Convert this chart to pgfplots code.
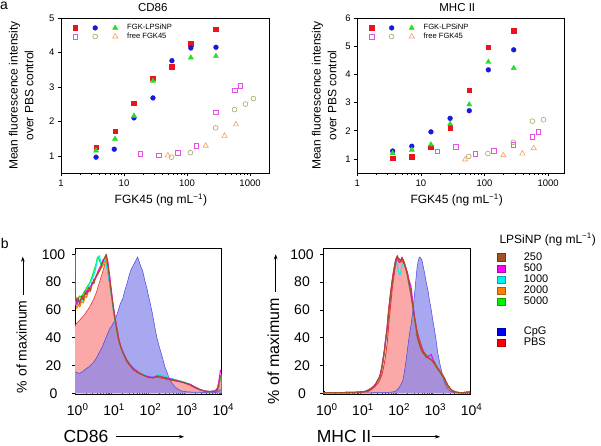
\documentclass[border=0pt]{standalone}
\usepackage{pgfplots}
\usepackage{pgfplotstable}
\pgfplotsset{compat=1.18}
\usepackage{fontspec}
\setmainfont{Liberation Sans}
\usetikzlibrary{arrows.meta}

\definecolor{mred}{RGB}{235,20,30}
\definecolor{mblue}{RGB}{25,25,220}
\definecolor{mgreen}{RGB}{40,220,40}
\definecolor{mmag}{RGB}{230,80,230}
\definecolor{molive}{RGB}{170,165,100}
\definecolor{morange}{RGB}{250,160,90}
\definecolor{hbrown}{RGB}{160,82,35}
\definecolor{hmag}{RGB}{255,0,255}
\definecolor{hcyan}{RGB}{0,240,240}
\definecolor{horange}{RGB}{255,128,0}
\definecolor{hgreen}{RGB}{0,240,0}
\definecolor{hblue}{RGB}{0,0,255}
\definecolor{hred}{RGB}{255,0,0}
\definecolor{cpgfill}{RGB}{135,135,236}
\definecolor{cpgline}{RGB}{70,70,220}
\definecolor{pbsfill}{RGB}{250,168,168}
\definecolor{pbsline}{RGB}{240,50,50}

\pgfplotstableread{
x y
0 15.5
0.05 15
0.12 14.3
0.2 15.5
0.3 17.5
0.4 19.5
0.5 22
0.58 25
0.66 29
0.76 34
0.85 40
0.94 45.6
1.02 49
1.1 52.8
1.17 58
1.24 64
1.31 68
1.38 75
1.45 81
1.5 86
1.56 90
1.62 93
1.68 96
1.72 98
1.76 95
1.81 91
1.86 88
1.92 81
1.98 75
2.03 69
2.08 63
2.13 57
2.19 48
2.25 40
2.32 33
2.4 26
2.47 19
2.53 15
2.6 10
2.67 7
2.75 4.5
2.85 2.6
2.95 1.5
3.1 1
3.4 0.8
3.7 0.6
3.9 0.8
3.97 2
4.03 3
}\cdcpg

\pgfplotstableread{
x y
0 48
0.03 50
0.07 51
0.14 53
0.21 55
0.3 58
0.4 62
0.5 67
0.58 72
0.65 78
0.72 84
0.78 89
0.82 93
0.855 96
0.88 92
0.92 84
0.96 77
1.0 70
1.04 64
1.09 57
1.13 51
1.18 44
1.22 38
1.27 33
1.31 29
1.36 26
1.41 23
1.5 20
1.59 17
1.7 15
1.87 13
2.0 12
2.14 12
2.25 11.5
2.33 11
2.45 10.5
2.6 9.6
2.75 9
2.88 8.4
3.0 7.5
3.15 6
3.3 4
3.43 2.4
3.55 1.6
3.71 1.2
3.89 1.2
3.95 3
3.98 10
4.03 14
}\cdpbs

\pgfplotstableread{
x br ma cy or gr
0 100 100 100 100 100
0.012 70 68 66 65 69
0.05 66 64 63 61 65
0.09 69 67 65 64 68
0.13 64 66 67 62 70
0.18 70 68 66 66 69
0.23 67 70 69 65 72
0.28 73 71 72 70 74
0.32 71 74 73 69 76
0.37 76 73 77 74 78
0.42 74 77 80 73 80
0.47 80 78 82 78 84
0.52 79 82 85 80 88
0.57 84 83 90 83 92
0.62 86 87 97 85 98
0.67 88 90 99 88 96
0.72 91 92 93 90 92
0.77 95 96 95 92 94
0.82 98 97 96 95 95
0.86 100 99 92 97 93
0.9 93 95 88 91 89
0.95 82 85 80 81 80
1.0 72 74 71 71 71
1.05 62 63 61 62 61
1.1 53 54 52 53 52
1.15 45 46 45 45 44
1.2 38 39 38 39 38
1.26 33 33.5 33 34 33
1.33 28.5 29 29 29 28.5
1.41 24 24.5 25 25 24.5
1.5 20.5 21 21.5 21 21
1.6 17.5 18 18.5 18 18
1.75 14.5 15 15 15 15.2
1.88 13 13 13.5 13.5 13.5
2.0 11.5 12 12.5 12 12.2
2.15 11 11.5 12 11.5 11.8
2.25 12 12.5 13 12 12.5
2.33 12 12 13.5 12.5 13
2.45 11 11.5 12 11.5 12
2.6 10 10.5 11 10.5 10.8
2.75 9 9.5 9.8 9.5 9.6
2.88 8.4 8.5 9 8.6 8.8
3.0 7.6 7.5 8 7.8 7.8
3.16 6 6.5 6.5 6.2 6.3
3.3 4 4.5 4.5 4.2 4.3
3.43 2.5 2.8 2.6 2.6 2.7
3.57 1.5 1.6 1.5 1.5 1.5
3.71 1.2 1.3 1.2 1.2 1.2
3.85 1.5 1.8 1.4 1.5 1.5
3.92 3 4 3 3 3
3.96 8 10 7 7 7
4.0 13 17 12 12 12
}\cdlines

\pgfplotstableread{
x y
-0.07 0.3
1.0 0.3
1.6 0.5
1.8 0.7
1.95 1.2
2.02 2.5
2.09 4.8
2.14 7
2.18 9.6
2.21 14
2.24 19
2.27 25
2.30 31
2.33 37
2.36 43
2.40 49
2.43 55
2.47 64
2.50 72
2.54 83
2.57 91
2.60 95
2.63 98
2.66 97.5
2.70 96
2.74 91
2.78 86
2.82 80
2.87 74
2.91 67
2.96 60
3.0 53
3.05 45.6
3.1 37
3.14 29
3.2 21
3.26 14.4
3.31 9
3.37 4.8
3.44 2.5
3.51 1.2
3.6 0.5
3.8 0.3
4.03 0.3
}\mhcpg

\pgfplotstableread{
x y
-0.07 0.5
0.8 0.5
1.03 1
1.21 1.2
1.3 2.5
1.40 4.8
1.48 7
1.54 9.6
1.59 13
1.63 17
1.68 24
1.72 31
1.75 38
1.78 48
1.81 56
1.84 64
1.87 72
1.90 79
1.94 86
1.97 92
2.0 96
2.02 98
2.06 97
2.11 96
2.16 95
2.21 93
2.26 89
2.30 85
2.35 79
2.39 72
2.44 64
2.48 57
2.53 50
2.57 45
2.62 40
2.67 36
2.72 32
2.76 29.5
2.82 27
2.87 25.5
2.96 24
3.05 21
3.1 19.5
3.14 18
3.19 16.5
3.24 14.5
3.29 12.5
3.33 10.5
3.39 7.5
3.44 4.8
3.5 2.8
3.56 1.2
3.65 0.5
4.03 0.5
}\mhpbs

\pgfplotstableread{
x br ma cy or gr
-0.07 0.5 0.5 0.5 0.5 0.5
0.5 0.5 0.5 0.5 0.5 0.5
1.0 0.8 0.8 0.8 0.8 0.8
1.12 1.2 1.3 1.2 1.2 1.2
1.22 2.2 2.4 2.2 2.1 2.2
1.31 3.6 3.8 3.5 3.4 3.6
1.38 5 5.3 5 4.8 5
1.44 7.2 7.6 7 7 7.2
1.49 9.5 10 9.4 9.2 9.5
1.54 12 12.5 12 11.6 12
1.57 15 16 15 14.5 15
1.60 19 20 19 18.5 19
1.63 24 25 24 23.5 24
1.67 31 32 31 30 31
1.70 38 39 38 37 38
1.74 46 47 46 45 46
1.78 58 59 57 56 58
1.81 65 66 64 63 65
1.84 72 73 71 70 72
1.87 78 79 77 76 78
1.90 84 85 83 82 84
1.94 90 91 88 89 90
1.97 95 95 92 94 94
2.0 97 98 94 96 96
2.02 99 98 93 97 97
2.05 97 95 88 96 96
2.09 96 94 85 95 95
2.12 95 96 87 94 95
2.15 97 98 92 96 96
2.19 96 95 94 95 95
2.22 93.5 93 92 92.5 93
2.26 90 90 89 89 90
2.30 86 87 85 85 86
2.33 81 83 80 80 82
2.36 77 80 76 76 78
2.40 72 77 71 71 73
2.44 65 68 64 64.5 66
2.47 59 61 58 58.5 60
2.50 53 55 52 52.5 54
2.54 47 48 46.5 46.5 48
2.57 41 42 41 41 43
2.61 37 38 37 37 39
2.65 33.6 34.5 34 33.6 35
2.69 31 32 31.5 31 32.5
2.73 29 30 29.5 29 30.5
2.78 27.5 28.5 28 27.5 29
2.82 26 27 26.5 26 27.5
2.87 25.5 26.5 26 25.5 26.5
2.91 25 27 25 25 26
2.96 24 28 24.5 24 25
3.01 23 24 23 23 24
3.05 21.5 22 21.5 21.5 22.5
3.10 19 19.5 19 19 20
3.15 17 17.5 17 17 18
3.19 15.6 16 15.6 15.6 16.5
3.24 13.5 14 13.5 13.5 14.5
3.28 12 12.5 12 12 13
3.33 10 10.5 10 10 11
3.37 7.2 7.8 7.2 7.2 8
3.42 5 5.5 5 5 5.5
3.47 3.6 3.8 3.6 3.6 4
3.53 2 2.2 2 2 2.2
3.60 1.2 1.3 1.2 1.2 1.3
3.67 0.7 0.7 0.7 0.7 0.7
3.74 0.5 0.5 0.5 0.5 0.5
3.85 0.5 0.5 0.5 0.5 0.5
3.95 0.8 0.8 0.8 0.8 0.8
4.03 1 1 1 1 1
}\mhlines

\pgfplotsset{
  mk/.style={only marks, legend image code/.code={\path[draw=none,fill=none] (-9.5pt,-2pt) (9.5pt,2pt);\draw[##1] plot coordinates {(0pt,0pt)};}},
  topax/.style={
    scale only axis, height=155pt,
    xmin=1, ymin=0.5,
    xtick={1,10,100,1000}, xticklabels={1,10,100,1000},
    minor xtick={2,3,4,5,6,7,8,9,20,30,40,50,60,70,80,90,200,300,400,500,600,700,800,900},
    tick align=outside, xtick pos=left, ytick pos=left,
    major tick length=3pt, minor tick length=1.8pt,
    every tick/.style={black, line width=0.5pt},
    axis line style={line width=0.6pt},
    tick label style={font=\fontsize{9.5}{11}\selectfont},
    xlabel={FGK45 (ng mL\textsuperscript{−1})},
    ylabel={Mean fluorescence intensity\\over PBS control},
    label style={font=\fontsize{12}{15.7}\selectfont},
    ylabel style={align=center, anchor=center},
    xlabel style={anchor=base, at={(axis description cs:0.48,0)}, yshift=-30.5pt},
    title style={anchor=base, yshift=0.3pt, font=\fontsize{11.5}{13}\selectfont},
    legend columns=3,
    legend cell align=left,
    legend style={draw=none, fill=none, anchor=north west, font=\fontsize{7.6}{9}\selectfont, inner sep=0pt, column sep=0pt, row sep=1.6pt, nodes={inner sep=0pt}},
  },
  botax/.style={
    scale only axis, height=146pt,
    ymin=-0.5, ymax=104.5,
    ytick={0,20,40,60,80,100},
    xtick={0,1,2,3,4},
    xticklabels={10\textsuperscript{0},10\textsuperscript{1},10\textsuperscript{2},10\textsuperscript{3},10\textsuperscript{4}},
    minor xtick={0.301,0.477,0.602,0.699,0.778,0.845,0.903,0.954,1.301,1.477,1.602,1.699,1.778,1.845,1.903,1.954,2.301,2.477,2.602,2.699,2.778,2.845,2.903,2.954,3.301,3.477,3.602,3.699,3.778,3.845,3.903,3.954},
    xtick pos=left, ytick pos=left,
    tick align=inside,
    major tick length=3pt, minor tick length=2pt,
    every tick/.style={black, line width=0.5pt},
    ytick style={xshift=-3pt},
    tick label style={font=\fontsize{14}{16}\selectfont},
    xticklabel style={anchor=north, xshift=2.7pt, yshift=-6pt},
    axis line style={line width=0.6pt},
    legend cell align=left,
    legend style={draw=none, fill=none, anchor=north west, font=\fontsize{11}{12}\selectfont, inner sep=0pt, row sep=2pt, nodes={inner sep=0pt}},
  },
  legbox/.style={legend image code/.code={\draw[##1, line width=0.4pt] (0pt,-3.6pt) rectangle (7.7pt,3.6pt);}},
  hl/.style={line width=1.1pt, line join=round},
}

\begin{document}
\begin{tikzpicture}[x=1pt,y=1pt]
\useasboundingbox (0,0) rectangle (601,445);

% ---------------- a: CD86 ----------------
\begin{axis}[xmode=log, topax, /pgf/number format/assume math mode=true,
  at={(61pt,272pt)}, anchor=south west, width=208pt,
  xmax=2000, ymax=5, ytick={1,2,3,4,5},
  title={CD86}, title style={at={(axis description cs:0.441,1)}},
  ylabel style={at={(axis description cs:-0.191,0.5)}},
  legend style={at={(axis description cs:0.0216,0.96)}}]
\addplot[mk, mark=square*, mark size=2.3pt, color=mred] coordinates {(3.6,1.25)(7.2,1.71)(14.4,2.53)(28.8,3.25)(57.6,3.59)(115,4.25)(288,4.67)};
\addlegendentry{\mbox{}}
\addplot[mk, mark=*, mark size=2.4pt, color=mblue] coordinates {(3.6,0.96)(7.0,1.19)(14.4,2.10)(28.8,2.68)(57.6,3.76)(115,4.13)(288,4.15)};
\addlegendentry{\mbox{}}
\addplot[mk, mark=triangle*, mark size=3pt, color=mgreen] coordinates {(3.6,1.15)(7.2,1.49)(14.4,2.16)(28.8,3.17)(115,3.85)(288,3.89)};
\addlegendentry{\hspace{2.5pt}FGK-LPSiNP}
\addplot[mk, mark=square, mark size=2.3pt, color=mmag, mark options={line width=0.6pt}] coordinates {(18.2,1.06)(35.7,1.01)(71.3,1.08)(141,1.29)(284,2.26)(567,2.90)(705,3.03)};
\addlegendentry{\mbox{}}
\addplot[mk, mark=o, mark size=2.4pt, color=molive, mark options={line width=0.6pt}] coordinates {(56.7,0.96)(113,1.09)(284,1.81)(567,2.34)(847,2.50)(1132,2.66)};
\addlegendentry{\mbox{}}
\addplot[mk, mark=triangle, mark size=3pt, color=morange, mark options={line width=0.6pt}] coordinates {(49.6,1.01)(198,1.29)(394,1.58)(596,1.91)};
\addlegendentry{\hspace{2.5pt}free FGK45}
\end{axis}

% ---------------- a: MHC II ----------------
\begin{axis}[xmode=log, topax, /pgf/number format/assume math mode=true,
  at={(357.3pt,272pt)}, anchor=south west, width=207pt,
  xmax=1800, ymax=6, ytick={1,2,3,4,5,6},
  title={MHC II}, title style={at={(axis description cs:0.483,1)}},
  ylabel style={at={(axis description cs:-0.16,0.5)}},
  legend style={at={(axis description cs:0.0225,0.96)}}]
\addplot[mk, mark=square*, mark size=2.3pt, color=mred] coordinates {(3.6,1.02)(7.2,1.08)(14.4,1.41)(28.8,2.11)(57.6,3.44)(115,4.96)(288,5.55)};
\addlegendentry{\mbox{}}
\addplot[mk, mark=*, mark size=2.4pt, color=mblue] coordinates {(3.6,1.28)(7.2,1.45)(14.4,1.96)(28.8,2.44)(57.6,2.71)(115,4.16)(288,4.87)};
\addlegendentry{\mbox{}}
\addplot[mk, mark=triangle*, mark size=3pt, color=mgreen] coordinates {(3.6,1.2)(7.2,1.32)(14.4,1.51)(28.8,2.24)(57.6,2.93)(115,4.44)(288,4.22)};
\addlegendentry{\hspace{2.5pt}FGK-LPSiNP}
\addplot[mk, mark=square, mark size=2.3pt, color=mmag, mark options={line width=0.6pt}] coordinates {(18.2,1.27)(35.7,1.42)(71.3,1.18)(141,1.28)(284,1.50)(567,1.78)(705,1.96)};
\addlegendentry{\mbox{}}
\addplot[mk, mark=o, mark size=2.4pt, color=molive, mark options={line width=0.6pt}] coordinates {(56.7,1.09)(113,1.19)(284,1.59)(567,2.34)(847,2.39)};
\addlegendentry{\mbox{}}
\addplot[mk, mark=triangle, mark size=3pt, color=morange, mark options={line width=0.6pt}] coordinates {(49.6,0.98)(198,1.13)(394,1.19)(596,1.38)};
\addlegendentry{\hspace{2.5pt}free FGK45}
\end{axis}

% ---------------- b: CD86 histogram ----------------
\begin{axis}[botax, /pgf/number format/assume math mode=true,
  at={(75pt,51pt)}, anchor=south west, width=146.5pt,
  xmin=0, xmax=4.025,
  yticklabel style={anchor=center, xshift=-21.5pt},
  legend style={at={(axis description cs:2.882,0.462)}}]
\addplot[fill=pbsfill, draw=none, forget plot] table[x=x,y=y]{\cdpbs} \closedcycle;
\addplot[fill=cpgfill, fill opacity=0.72, draw=none, forget plot] table[x=x,y=y]{\cdcpg} \closedcycle;
\addplot[cpgline, line width=0.5pt, forget plot] table[x=x,y=y]{\cdcpg};
\addplot[pbsline, line width=0.6pt, forget plot] table[x=x,y=y]{\cdpbs};
\addplot[hl, hgreen, forget plot] table[x=x,y=gr]{\cdlines};
\addplot[hl, horange, forget plot] table[x=x,y=or]{\cdlines};
\addplot[hl, hcyan, forget plot] table[x=x,y=cy]{\cdlines};
\addplot[hl, hmag, forget plot] table[x=x,y=ma]{\cdlines};
\addplot[hl, hbrown, forget plot] table[x=x,y=br]{\cdlines};
\addlegendimage{legbox, fill=hblue, draw=hblue!70!black}
\addlegendentry{\hspace{18.3pt}CpG}
\addlegendimage{legbox, fill=hred, draw=hred!70!black}
\addlegendentry{\hspace{18.3pt}PBS}
\end{axis}

% ---------------- b: MHC II histogram ----------------
\begin{axis}[botax, /pgf/number format/assume math mode=true,
  at={(323pt,51pt)}, anchor=south west, width=147pt,
  xmin=-0.03, xmax=4.03,
  yticklabel style={anchor=center, xshift=-21pt},
  legend style={at={(axis description cs:1.185,0.97)}}]
\addplot[fill=pbsfill, draw=none, forget plot] table[x=x,y=y]{\mhpbs} \closedcycle;
\addplot[fill=cpgfill, fill opacity=0.72, draw=none, forget plot] table[x=x,y=y]{\mhcpg} \closedcycle;
\addplot[cpgline, line width=0.5pt, forget plot] table[x=x,y=y]{\mhcpg};
\addplot[hl, hgreen, forget plot] table[x=x,y=gr]{\mhlines};
\addplot[hl, horange, forget plot] table[x=x,y=or]{\mhlines};
\addplot[hl, hcyan, forget plot] table[x=x,y=cy]{\mhlines};
\addplot[hl, hmag, forget plot] table[x=x,y=ma]{\mhlines};
\addplot[pbsline, line width=0.9pt, forget plot] table[x=x,y=y]{\mhpbs};
\addplot[hl, hbrown, forget plot] table[x=x,y=br]{\mhlines};
\addlegendimage{legbox, fill=hbrown, draw=hbrown!70!black}
\addlegendentry{\hspace{18.3pt}250}
\addlegendimage{legbox, fill=hmag, draw=hmag!70!black}
\addlegendentry{\hspace{18.3pt}500}
\addlegendimage{legbox, fill=hcyan, draw=hcyan!70!black}
\addlegendentry{\hspace{18.3pt}1000}
\addlegendimage{legbox, fill=horange, draw=horange!70!black}
\addlegendentry{\hspace{18.3pt}2000}
\addlegendimage{legbox, fill=hgreen, draw=hgreen!70!black}
\addlegendentry{\hspace{18.3pt}5000}
\end{axis}

% ---------------- free text, labels and arrows ----------------
\node[anchor=base west, inner sep=0pt, font=\fontsize{14}{16}\selectfont] at (0,435.3) {a};
\node[anchor=base west, inner sep=0pt, font=\fontsize{14}{16}\selectfont] at (0.8,196.7) {b};
\node[anchor=base west, inner sep=0pt, font=\fontsize{12}{14}\selectfont] at (499.3,202) {LPSiNP (ng mL\textsuperscript{−1})};

\node[anchor=base west, inner sep=0pt, rotate=90, font=\fontsize{14}{16}\selectfont] at (26.7,51.7) {\% of maximum};
\draw[line width=0.6pt, -{Stealth[length=5pt,width=3.6pt]}] (22.8,150) -- (22.8,188.3);
\node[anchor=base west, inner sep=0pt, rotate=90, font=\fontsize{16}{18}\selectfont] at (279,40.7) {\% of maximum};
\draw[line width=0.6pt, -{Stealth[length=5pt,width=3.6pt]}] (275.7,153.3) -- (275.7,190.7);

\node[anchor=base west, inner sep=0pt, font=\fontsize{17.5}{19}\selectfont] at (63.3,2.3) {CD86};
\draw[line width=0.6pt, -{Stealth[length=5pt,width=3.6pt]}] (116,8.3) -- (184,8.3);
\node[anchor=base west, inner sep=0pt, font=\fontsize{17.5}{19}\selectfont] at (316.7,2.3) {MHC II};
\draw[line width=0.6pt, -{Stealth[length=5pt,width=3.6pt]}] (371.7,8.3) -- (440,8.3);
\end{tikzpicture}
\end{document}
